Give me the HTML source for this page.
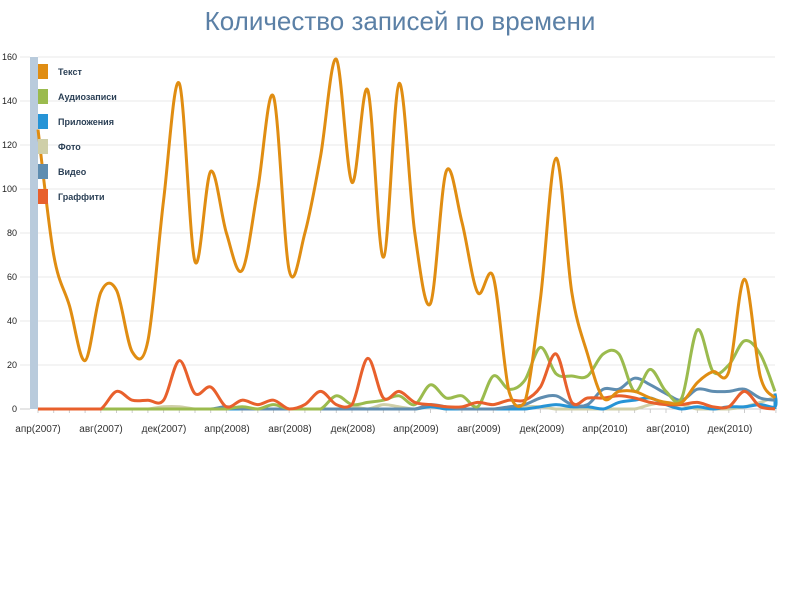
<!DOCTYPE html>
<html><head><meta charset="utf-8">
<style>
html,body{margin:0;padding:0;background:#fff;width:800px;height:600px;overflow:hidden}
svg{display:block}
text{font-family:"Liberation Sans",sans-serif}
</style></head><body>
<svg id="s" width="800" height="600" xmlns="http://www.w3.org/2000/svg">
<text x="400" y="30" text-anchor="middle" font-size="26" fill="#5b80a6">Количество записей по времени</text>
<g id="grid"></g>
<rect x="30" y="57" width="8" height="352" fill="#b9cbdc"/>
<g id="series"></g>
<g font-size="9" fill="#222">
<text x="17" y="412" text-anchor="end">0</text>
<text x="17" y="368" text-anchor="end">20</text>
<text x="17" y="324" text-anchor="end">40</text>
<text x="17" y="280" text-anchor="end">60</text>
<text x="17" y="236" text-anchor="end">80</text>
<text x="17" y="192" text-anchor="end">100</text>
<text x="17" y="148" text-anchor="end">120</text>
<text x="17" y="104" text-anchor="end">140</text>
<text x="17" y="60" text-anchor="end">160</text>
</g>
<g font-size="10" fill="#333" text-anchor="middle">
<text x="38" y="432">апр(2007)</text>
<text x="101" y="432">авг(2007)</text>
<text x="164" y="432">дек(2007)</text>
<text x="227" y="432">апр(2008)</text>
<text x="290" y="432">авг(2008)</text>
<text x="353" y="432">дек(2008)</text>
<text x="416" y="432">апр(2009)</text>
<text x="479" y="432">авг(2009)</text>
<text x="542" y="432">дек(2009)</text>
<text x="605" y="432">апр(2010)</text>
<text x="668" y="432">авг(2010)</text>
<text x="730" y="432">дек(2010)</text>
</g>
<g font-size="9" font-weight="bold" fill="#2a3f55">
<rect x="38" y="64" width="10" height="15" fill="#e08d12"/><text x="58" y="75">Текст</text>
<rect x="38" y="89" width="10" height="15" fill="#9bbb4e"/><text x="58" y="100">Аудиозаписи</text>
<rect x="38" y="114" width="10" height="15" fill="#2694d6"/><text x="58" y="125">Приложения</text>
<rect x="38" y="139" width="10" height="15" fill="#cfcfa8"/><text x="58" y="150">Фото</text>
<rect x="38" y="164" width="10" height="15" fill="#5f8db0"/><text x="58" y="175">Видео</text>
<rect x="38" y="189" width="10" height="15" fill="#e8602c"/><text x="58" y="200">Граффити</text>
</g>
</svg>
<script>
var NS="http://www.w3.org/2000/svg";
var g=document.getElementById("grid");
for(var v=0;v<=160;v+=20){var y=409-v*2.2;var l=document.createElementNS(NS,"line");
l.setAttribute("x1",20);l.setAttribute("x2",775);l.setAttribute("y1",y);l.setAttribute("y2",y);
l.setAttribute("stroke",v==0?"#ccc":"#e8e8e8");l.setAttribute("stroke-width",1);g.appendChild(l);}
for(var i=0;i<=16;i++){var y=57+i*22;var l=document.createElementNS(NS,"line");l.setAttribute("x1",30);l.setAttribute("x2",38);l.setAttribute("y1",y);l.setAttribute("y2",y);l.setAttribute("stroke","#fff");g.appendChild(l);}
for(var i=0;i<48;i++){var x=38+15.7*i;var l=document.createElementNS(NS,"line");l.setAttribute("x1",x);l.setAttribute("x2",x);l.setAttribute("y1",409);l.setAttribute("y2",413);l.setAttribute("stroke","#ccc");g.appendChild(l);}
var Z=function(n){var a=[];for(var i=0;i<n;i++)a.push(0);return a;};
var D=[
["#cfcfa8",Z(8).concat([1,1,0,0,0,0,0,0,0,0,0,0,1,0,2,1,0,1,0,0,0,0,0,1,1,0,0,0,0,0,0,2,3,2,0,0,0,1,3,5,1,0])],
["#2694d6",Z(25).concat([1,0,0,0,0,0,0,1,2,1,1,0,3,4,5,2,0,1,0,1,1,2,1,7,1,0])],
["#5f8db0",Z(12).concat([1,0,0,0,0,0,0,0,0,0,0,0,0,2,1,0,0,0,1,2,5,6,2,2,9,9,14,11,7,4,9,8,8,9,5,4])],
["#9bbb4e",Z(13).concat([1,0,2,0,0,0,6,2,3,4,6,2,11,5,6,1,15,9,13,28,16,15,15,25,25,8,18,8,5,36,17,20,31,25,8])],
["#e8602c",[0,0,0,0,0,8,4,4,4,22,7,10,1,4,2,4,0,2,8,2,2,23,5,8,3,2,1,1,3,2,4,4,10,25,3,5,5,6,5,3,2,2,3,1,1,8,1,0]],
["#e08d12",[127,70,47,22,53,54,26,31,95,148,67,108,80,63,100,142,63,80,115,159,103,145,69,148,80,48,108,85,53,60,8,3,50,114,53,25,5,8,8,5,3,3,12,17,17,59,15,5]]
];
var sg=document.getElementById("series");
D.forEach(function(s){var v=s[1];var P=v.map(function(y,i){return [Math.min(38+15.7*i,775),409-y*2.2];});
var d="M"+P[0][0]+","+P[0][1];
for(var i=0;i<P.length-1;i++){var p0=P[Math.max(i-1,0)],p1=P[i],p2=P[i+1],p3=P[Math.min(i+2,P.length-1)];
var c1=[p1[0]+(p2[0]-p0[0])/6,p1[1]+(p2[1]-p0[1])/6],c2=[p2[0]-(p3[0]-p1[0])/6,p2[1]-(p3[1]-p1[1])/6];
c1[1]=Math.min(c1[1],409);c2[1]=Math.min(c2[1],409);
d+=" C"+c1[0]+","+c1[1]+" "+c2[0]+","+c2[1]+" "+p2[0]+","+p2[1];}
var p=document.createElementNS(NS,"path");p.setAttribute("d",d);p.setAttribute("fill","none");p.setAttribute("stroke",s[0]);p.setAttribute("stroke-width",3);sg.appendChild(p);});
</script>
</body></html>
